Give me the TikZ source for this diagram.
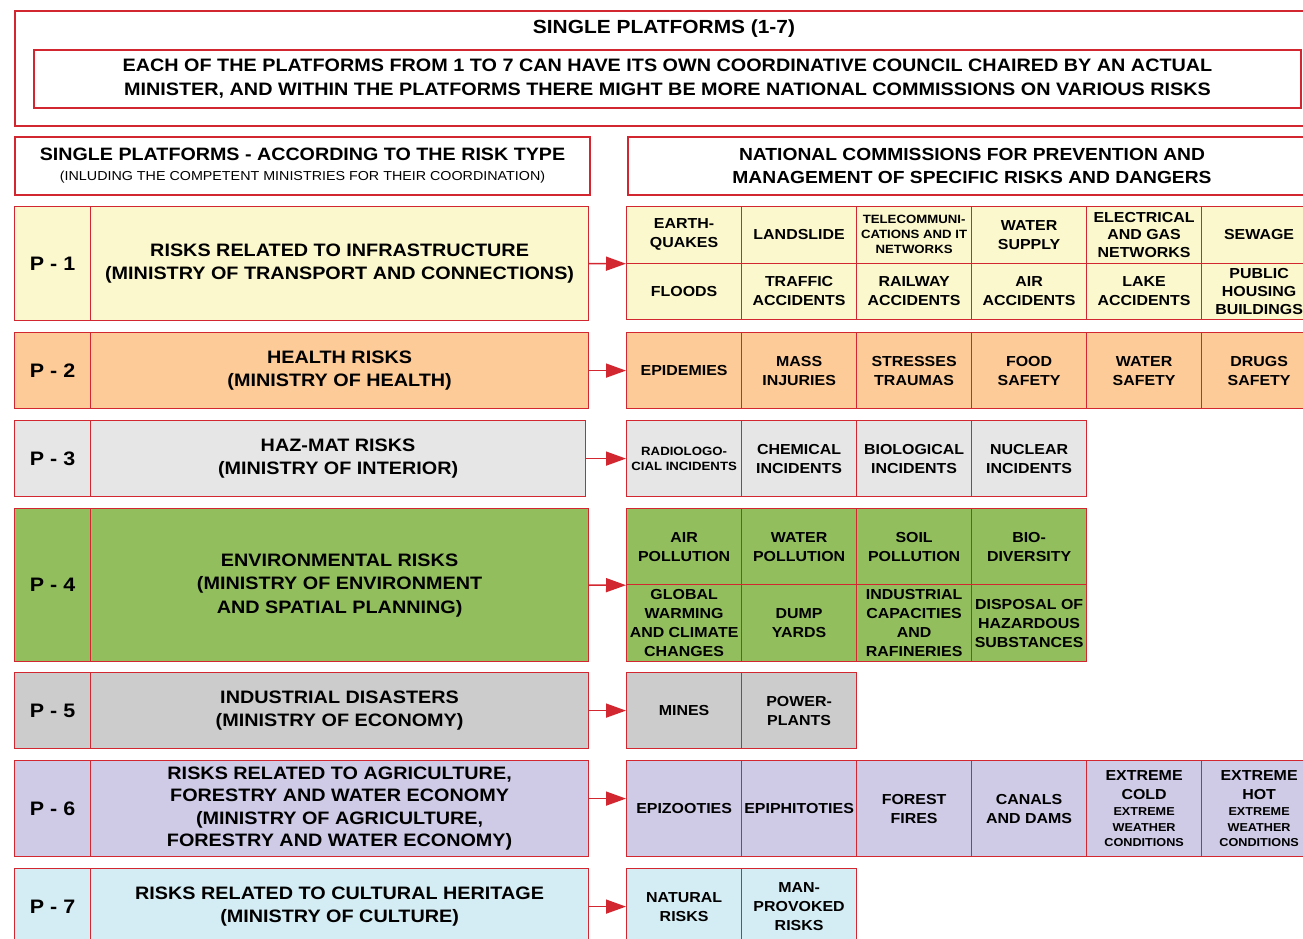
\documentclass[tikz,border=0pt]{standalone}
\usepackage{fontspec}
\setmainfont{Liberation Sans}[FakeStretch=1.1]
\usetikzlibrary{arrows.meta}

\definecolor{bred}{HTML}{D22630}
\definecolor{pyellow}{HTML}{FCF8CD}
\definecolor{porange}{HTML}{FDCB97}
\definecolor{plight}{HTML}{E6E6E6}
\definecolor{pgreen}{HTML}{93BE5E}
\definecolor{pgray}{HTML}{CCCCCC}
\definecolor{plilac}{HTML}{CFCBE7}
\definecolor{pcyan}{HTML}{D4ECF3}
\newcommand\wsm{\fontsize{11.5}{15}\selectfont}

\begin{document}
\begin{tikzpicture}[x=1pt,y=-1pt,
  headbox/.style={draw=bred,line width=2pt,fill=white,inner sep=0pt,align=center,anchor=north west},
  rowbox/.style={draw=bred,line width=1.2pt,inner sep=0pt,align=center,anchor=north west},
  ptag/.style={rowbox,minimum width=76pt,font=\fontsize{19.5}{24}\selectfont\bfseries},
  ptitle/.style={rowbox,minimum width=498pt,font=\fontsize{18}{23.5}\selectfont\bfseries},
  cellbox/.style={rowbox,minimum width=115pt,font=\fontsize{14.5}{19}\selectfont\bfseries},
  tinytext/.style={font=\fontsize{12}{15}\selectfont\bfseries},
  link/.style={draw=bred,line width=1.5pt,-{Triangle[length=20pt,width=14pt]}}]
 \useasboundingbox (0,0) rectangle (1303,939);
 \clip (0,0) rectangle (1303,939);

 % top
 \node[headbox,minimum width=1298pt,minimum height=115pt] (outer) at (14,10) {};
 \node[font=\fontsize{19}{24}\selectfont\bfseries] (title) at ([yshift=-19pt]outer.north) {SINGLE PLATFORMS (1-7)};
 \node[headbox,minimum width=1267pt,minimum height=58pt,font=\fontsize{18}{24}\selectfont\bfseries] (note) at (33,49)
  {EACH OF THE PLATFORMS FROM 1 TO 7 CAN HAVE ITS OWN COORDINATIVE COUNCIL CHAIRED BY AN ACTUAL\\
   MINISTER, AND WITHIN THE PLATFORMS THERE MIGHT BE MORE NATIONAL COMMISSIONS ON VARIOUS RISKS};
 \node[headbox,minimum width=575pt,minimum height=58pt,font=\fontsize{17.9}{20}\selectfont\bfseries] (lhead) at (14,136)
  {SINGLE PLATFORMS - ACCORDING TO THE RISK TYPE\\
   \fontsize{13}{13}\selectfont\mdseries (INLUDING THE COMPETENT MINISTRIES FOR THEIR COORDINATION)};
 \node[headbox,minimum width=688pt,minimum height=58pt,font=\fontsize{17.5}{23}\selectfont\bfseries] (rhead) at (627,136)
  {NATIONAL COMMISSIONS FOR PREVENTION AND\\ MANAGEMENT OF SPECIFIC RISKS AND DANGERS};

 % P-1
 \node[ptag,fill=pyellow,minimum height=114pt] (p1) at (14,206) {P - 1};
 \node[ptitle,fill=pyellow,minimum height=114pt] (p1t) at (90,206)
  {RISKS RELATED TO INFRASTRUCTURE\\ (MINISTRY OF TRANSPORT AND CONNECTIONS)};
 \node[cellbox,fill=pyellow,minimum height=56.5pt] (g1a) at (626,206) {EARTH-\\QUAKES};
 \node[cellbox,fill=pyellow,minimum height=56.5pt] (g1b) at (741,206) {LANDSLIDE};
 \node[cellbox,tinytext,fill=pyellow,minimum height=56.5pt] (g1c) at (856,206) {TELECOMMUNI-\\CATIONS AND IT\\NETWORKS};
 \node[cellbox,fill=pyellow,minimum height=56.5pt] (g1d) at (971,206) {WATER\\SUPPLY};
 \node[cellbox,fill=pyellow,minimum height=56.5pt,font=\fontsize{14.5}{17.5}\selectfont\bfseries] (g1e) at (1086,206) {ELECTRICAL\\AND GAS\\NETWORKS};
 \node[cellbox,fill=pyellow,minimum height=56.5pt] (g1f) at (1201,206) {SEWAGE};
 \node[cellbox,fill=pyellow,minimum height=56.5pt] (g1g) at (626,262.5) {FLOODS};
 \node[cellbox,fill=pyellow,minimum height=56.5pt] (g1h) at (741,262.5) {TRAFFIC\\ACCIDENTS};
 \node[cellbox,fill=pyellow,minimum height=56.5pt] (g1i) at (856,262.5) {RAILWAY\\ACCIDENTS};
 \node[cellbox,fill=pyellow,minimum height=56.5pt] (g1j) at (971,262.5) {AIR\\ACCIDENTS};
 \node[cellbox,fill=pyellow,minimum height=56.5pt] (g1k) at (1086,262.5) {LAKE\\ACCIDENTS};
 \node[cellbox,fill=pyellow,minimum height=56.5pt,font=\fontsize{14.5}{18}\selectfont\bfseries] (g1l) at (1201,262.5) {PUBLIC\\HOUSING\\BUILDINGS};
 \draw[link] (p1t.east) -- (g1a.south west);

 % P-2
 \node[ptag,fill=porange,minimum height=76pt] (p2) at (14,332) {P - 2};
 \node[ptitle,fill=porange,minimum height=76pt] (p2t) at (90,332) {HEALTH RISKS\\ (MINISTRY OF HEALTH)};
 \node[cellbox,fill=porange,minimum height=76pt] (g2a) at (626,332) {EPIDEMIES};
 \node[cellbox,fill=porange,minimum height=76pt] (g2b) at (741,332) {MASS\\INJURIES};
 \node[cellbox,fill=porange,minimum height=76pt] (g2c) at (856,332) {STRESSES\\TRAUMAS};
 \node[cellbox,fill=porange,minimum height=76pt] (g2d) at (971,332) {FOOD\\SAFETY};
 \node[cellbox,fill=porange,minimum height=76pt] (g2e) at (1086,332) {WATER\\SAFETY};
 \node[cellbox,fill=porange,minimum height=76pt] (g2f) at (1201,332) {DRUGS\\SAFETY};
 \draw[link] (p2t.east) -- (g2a.west);

 % P-3
 \node[ptag,fill=plight,minimum height=76pt] (p3) at (14,420) {P - 3};
 \node[ptitle,fill=plight,minimum width=495pt,minimum height=76pt] (p3t) at (90,420) {HAZ-MAT RISKS\\ (MINISTRY OF INTERIOR)};
 \node[cellbox,tinytext,fill=plight,minimum height=76pt] (g3a) at (626,420) {RADIOLOGO-\\CIAL INCIDENTS};
 \node[cellbox,fill=plight,minimum height=76pt] (g3b) at (741,420) {CHEMICAL\\INCIDENTS};
 \node[cellbox,fill=plight,minimum height=76pt] (g3c) at (856,420) {BIOLOGICAL\\INCIDENTS};
 \node[cellbox,fill=plight,minimum height=76pt] (g3d) at (971,420) {NUCLEAR\\INCIDENTS};
 \draw[link] (p3t.east) -- (g3a.west);

 % P-4
 \node[ptag,fill=pgreen,minimum height=153pt] (p4) at (14,508) {P - 4};
 \node[ptitle,fill=pgreen,minimum height=153pt] (p4t) at (90,508)
  {ENVIRONMENTAL RISKS\\ (MINISTRY OF ENVIRONMENT\\ AND SPATIAL PLANNING)};
 \node[cellbox,fill=pgreen,minimum height=76pt] (g4a) at (626,508) {AIR\\POLLUTION};
 \node[cellbox,fill=pgreen,minimum height=76pt] (g4b) at (741,508) {WATER\\POLLUTION};
 \node[cellbox,fill=pgreen,minimum height=76pt] (g4c) at (856,508) {SOIL\\POLLUTION};
 \node[cellbox,fill=pgreen,minimum height=76pt] (g4d) at (971,508) {BIO-\\DIVERSITY};
 \node[cellbox,fill=pgreen,minimum height=77pt] (g4e) at (626,584) {GLOBAL\\WARMING\\AND CLIMATE\\CHANGES};
 \node[cellbox,fill=pgreen,minimum height=77pt] (g4f) at (741,584) {DUMP\\YARDS};
 \node[cellbox,fill=pgreen,minimum height=77pt] (g4g) at (856,584) {INDUSTRIAL\\CAPACITIES\\AND\\RAFINERIES};
 \node[cellbox,fill=pgreen,minimum height=77pt] (g4h) at (971,584) {DISPOSAL OF\\HAZARDOUS\\SUBSTANCES};
 \draw[link] (p4t.east) -- (g4a.south west);

 % P-5
 \node[ptag,fill=pgray,minimum height=76pt] (p5) at (14,672) {P - 5};
 \node[ptitle,fill=pgray,minimum height=76pt] (p5t) at (90,672) {INDUSTRIAL DISASTERS\\ (MINISTRY OF ECONOMY)};
 \node[cellbox,fill=pgray,minimum height=76pt] (g5a) at (626,672) {MINES};
 \node[cellbox,fill=pgray,minimum height=76pt] (g5b) at (741,672) {POWER-\\PLANTS};
 \draw[link] (p5t.east) -- (g5a.west);

 % P-6
 \node[ptag,fill=plilac,minimum height=96pt] (p6) at (14,760) {P - 6};
 \node[ptitle,fill=plilac,minimum height=96pt,font=\fontsize{18}{22.5}\selectfont\bfseries] (p6t) at (90,760)
  {RISKS RELATED TO AGRICULTURE,\\ FORESTRY AND WATER ECONOMY\\ (MINISTRY OF AGRICULTURE,\\ FORESTRY AND WATER ECONOMY)};
 \node[cellbox,fill=plilac,minimum height=96pt] (g6a) at (626,760) {EPIZOOTIES};
 \node[cellbox,fill=plilac,minimum height=96pt] (g6b) at (741,760) {EPIPHITOTIES};
 \node[cellbox,fill=plilac,minimum height=96pt] (g6c) at (856,760) {FOREST\\FIRES};
 \node[cellbox,fill=plilac,minimum height=96pt] (g6d) at (971,760) {CANALS\\AND DAMS};
 \node[cellbox,fill=plilac,minimum height=96pt] (g6e) at (1086,760)
  {EXTREME\\COLD\\[-3pt]\wsm EXTREME\\[-3.5pt]\wsm WEATHER\\[-3.5pt]\wsm CONDITIONS};
 \node[cellbox,fill=plilac,minimum height=96pt] (g6f) at (1201,760)
  {EXTREME\\HOT\\[-3pt]\wsm EXTREME\\[-3.5pt]\wsm WEATHER\\[-3.5pt]\wsm CONDITIONS};
 \draw[link] ([yshift=10pt]p6t.east) -- ([yshift=10pt]g6a.west);

 % P-7
 \node[ptag,fill=pcyan,minimum height=76pt] (p7) at (14,868) {P - 7};
 \node[ptitle,fill=pcyan,minimum height=76pt] (p7t) at (90,868)
  {RISKS RELATED TO CULTURAL HERITAGE\\ (MINISTRY OF CULTURE)};
 \node[cellbox,fill=pcyan,minimum height=76pt] (g7a) at (626,868) {NATURAL\\RISKS};
 \node[cellbox,fill=pcyan,minimum height=76pt] (g7b) at (741,868) {MAN-\\PROVOKED\\RISKS};
 \draw[link] (p7t.east) -- (g7a.west);
\end{tikzpicture}
\end{document}
